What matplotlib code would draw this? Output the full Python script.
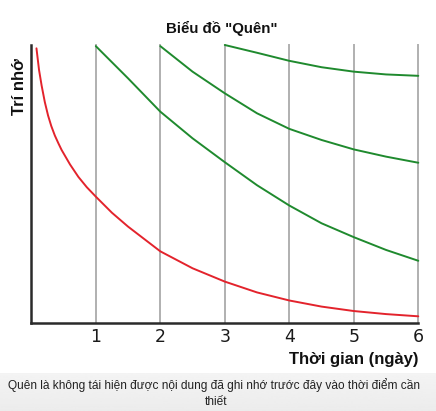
import numpy as np
import matplotlib
matplotlib.use("Agg")
import matplotlib.pyplot as plt

# ---- data ----
title = 'Biểu đồ "Quên"'
xlabel = "Thời gian (ngày)"
ylabel = "Trí nhớ"
caption1 = "Quên là không tái hiện được nội dung đã ghi nhớ trước đây vào thời điểm cần"
caption2 = "thiết"

day_ticks = [1, 2, 3, 4, 5, 6]

red_days = [0.08, 0.12, 0.16, 0.21, 0.26, 0.31, 0.365, 0.42, 0.47, 0.6, 0.73, 0.86, 1.0,
            1.25, 1.5, 2.0, 2.5, 3.0, 3.5, 4.0, 4.5, 5.0, 5.5, 6.0]
red_mem = [98.8, 91.0, 85.4, 79.4, 74.6, 70.8, 67.4, 64.6, 62.2, 57.0, 52.5, 48.8, 45.4,
           39.6, 34.6, 25.7, 19.6, 14.8, 10.9, 8.0, 5.8, 4.2, 3.1, 2.3]

green1_days = [1, 1.5, 2, 2.5, 3, 3.5, 4, 4.5, 5, 5.5, 6]
green1_mem = [99.6, 88.0, 76.0, 66.4, 57.8, 49.5, 42.2, 35.8, 30.8, 26.2, 22.3]

green2_days = [2, 2.5, 3, 3.5, 4, 4.5, 5, 5.5, 6]
green2_mem = [99.6, 90.4, 82.6, 75.4, 69.8, 65.8, 62.4, 59.8, 57.6]

green3_days = [3, 3.5, 4, 4.5, 5, 5.5, 6]
green3_mem = [100.0, 97.2, 94.3, 92.0, 90.4, 89.4, 88.9]

# ---- figure ----
W, H = 436, 411
fig = plt.figure(figsize=(W / 100, H / 100), dpi=100)
fig.patch.set_facecolor("white")

# caption strip background (light gray gradient)
bg = fig.add_axes([0, 0, 1, 38 / H])
bg.imshow(np.linspace(0.955, 0.925, 50).reshape(-1, 1), cmap="gray", vmin=0, vmax=1,
          aspect="auto", extent=[0, 1, 0, 1])
bg.axis("off")

ax = fig.add_axes([31.3 / W, 1 - 322.7 / H, 387.0 / W, 277.7 / H])
ax.set_xlim(0, 6)
ax.set_ylim(0, 100)

for d in day_ticks:
    ax.axvline(d, color="#b0b0b0", lw=1.4, zorder=1, clip_on=False)

ax.plot(red_days, red_mem, color="#e3232c", lw=1.4, zorder=3, clip_on=False,
        solid_capstyle="round", solid_joinstyle="round")
for dd, mm in [(green1_days, green1_mem), (green2_days, green2_mem), (green3_days, green3_mem)]:
    ax.plot(dd, mm, color="#1f8a2e", lw=1.4, zorder=3, clip_on=False,
            solid_capstyle="round", solid_joinstyle="round")

for s in ["top", "right"]:
    ax.spines[s].set_visible(False)
for s in ["left", "bottom"]:
    ax.spines[s].set_color("#2a2a2a")
    ax.spines[s].set_linewidth(1.8)
    ax.spines[s].set_zorder(4)

ax.set_xticks(day_ticks)
ax.set_xticklabels([str(d) for d in day_ticks])
ax.set_yticks([])
ax.tick_params(axis="x", length=0, pad=4.0, labelsize=12.5, labelcolor="#1a1a1a")
for lab in ax.get_xticklabels():
    lab.set_family(["DejaVu Sans"])

bold = ["Liberation Sans", "DejaVu Sans"]
fig.text(221.7 / W, 1 - 32.7 / H, title, ha="center", va="baseline",
         fontsize=10.8, fontweight="bold", family=bold, color="#111111")
fig.text(418.0 / W, 1 - 363.5 / H, xlabel, ha="right", va="baseline",
         fontsize=12, fontweight="bold", family=bold, color="#111111")
fig.text(19.0 / W, 1 - 86.7 / H, ylabel, ha="center", va="center", rotation=90,
         fontsize=12, fontweight="bold", family=bold, color="#111111")

reg = ["Liberation Sans", "DejaVu Sans"]
fig.text(214 / W, 1 - 389 / H, caption1, ha="center", va="baseline",
         fontsize=8.6, family=reg, color="#222222")
fig.text(216 / W, 1 - 404.5 / H, caption2, ha="center", va="baseline",
         fontsize=8.6, family=reg, color="#222222")

fig.savefig("out.png", dpi=100)
